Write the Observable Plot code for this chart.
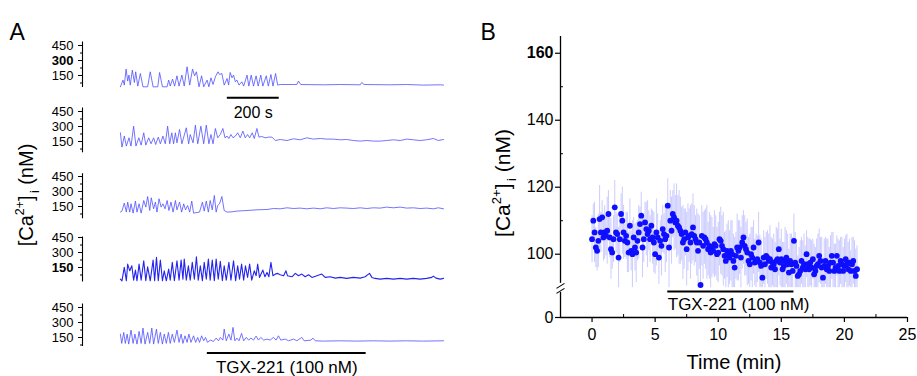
<!DOCTYPE html>
<html><head><meta charset="utf-8">
<script src="https://cdn.jsdelivr.net/npm/d3@7"></script>
<script src="https://cdn.jsdelivr.net/npm/@observablehq/plot@0.6"></script>
<style>
html,body{margin:0;padding:0;background:#fff;}
#fig{position:relative;width:917px;height:376px;overflow:hidden;font-family:"Liberation Sans",Arial,Helvetica,sans-serif;}
</style></head><body><div id="fig"></div>
<script>
// ---------------- Panel A data: five single-cell traces (time s, [Ca2+]i nM) ----------------
const t1 = [0,10,15,22,28,33,38,46,54,59,67,77,87,105,115,126,144,151,162,180,186,192,201,209,218,226,237,246,257,267,278,286,293,303,313,321,334,341,349,357,366,376,382,391,400,411,417,423,430,436,443,449,457,468,475,488,495,504,513,523,531,541,549,562,570,580,588,598,606,616,667,680,686,695,783,847,924,930,939,1039,1103,1168,1232,1245];
const c1 = [37,104,54,214,94,154,54,204,80,187,44,170,37,37,187,37,37,180,37,37,104,44,114,44,147,44,154,44,237,54,214,147,187,37,147,37,104,37,127,60,137,187,160,170,54,120,54,180,127,154,87,104,54,87,44,154,44,154,44,147,44,154,44,147,44,160,44,170,54,60,60,60,94,60,57,60,57,80,60,57,60,54,57,54];

const t2 = [0,6,15,23,33,41,51,60,71,80,90,98,109,118,128,136,146,154,164,173,182,190,198,205,212,218,228,237,254,263,269,280,289,298,310,321,331,341,349,357,366,375,385,395,403,411,418,426,434,443,452,462,472,481,490,498,508,516,526,534,545,558,571,584,597,616,642,667,693,718,744,770,795,821,847,872,898,924,949,975,1001,1026,1052,1078,1103,1129,1155,1180,1206,1225,1245];
const c2 = [237,94,204,104,187,104,303,104,187,114,237,114,187,127,187,120,194,127,204,127,303,127,237,127,237,137,270,127,287,127,220,137,313,127,303,127,313,127,220,127,280,187,220,280,187,204,180,220,187,204,237,187,254,187,220,187,237,180,280,194,200,187,194,194,160,170,160,177,167,187,174,180,174,174,167,170,160,154,160,154,154,160,167,160,174,167,160,167,180,160,170];

const t3 = [0,6,15,23,28,36,41,49,58,64,72,80,90,98,105,113,119,128,135,141,149,157,164,172,180,187,195,203,212,218,228,236,244,251,259,267,275,282,305,316,323,331,339,346,354,362,369,375,382,391,400,411,430,449,488,526,565,590,616,642,667,693,718,744,770,795,821,847,872,898,924,949,975,1001,1026,1052,1078,1103,1129,1155,1180,1206,1225,1245];
const c3 = [94,104,184,94,194,94,177,84,204,94,177,84,210,144,250,110,237,127,194,94,227,144,177,127,210,110,194,94,210,117,194,94,177,117,160,94,204,84,94,194,104,204,94,210,117,260,94,160,177,250,110,94,97,104,110,117,120,130,127,137,130,134,127,134,127,137,130,137,134,130,137,130,137,134,144,137,144,134,137,130,134,127,137,127];

const t4 = [0,6,15,23,28,36,44,51,58,64,72,80,90,98,105,115,126,132,139,146,154,162,169,177,186,192,200,208,218,226,234,241,246,254,262,269,277,285,293,300,308,316,323,331,339,346,354,362,369,377,385,393,400,408,418,426,436,444,452,459,467,475,482,490,498,506,516,523,529,536,549,557,565,572,580,588,597,606,616,629,638,644,661,674,686,699,712,725,738,757,776,789,808,828,847,872,898,924,943,960,969,981,1001,1026,1052,1078,1103,1129,1155,1180,1200,1206,1216,1232,1245];
const c4 = [34,17,151,17,184,117,167,24,124,17,184,24,217,17,157,17,224,17,251,17,224,17,117,17,134,24,201,17,217,24,224,34,234,24,167,24,201,34,257,24,167,17,201,34,234,24,224,17,234,34,211,17,167,24,201,24,217,17,167,34,184,24,167,51,184,24,117,67,184,51,124,57,101,57,201,67,84,91,77,67,117,67,57,91,67,84,57,77,51,67,84,51,57,44,51,41,51,44,57,91,51,41,34,41,34,41,34,41,34,41,51,64,44,34,41];

const t5 = [0,5,13,19,26,32,41,49,56,64,72,80,87,95,105,113,121,128,139,146,154,162,169,177,185,192,200,208,218,226,234,241,249,257,264,272,282,290,298,305,313,321,328,336,346,359,369,378,385,395,400,408,418,426,434,441,449,457,467,475,485,494,503,513,523,532,541,552,565,577,590,600,609,618,635,648,667,680,699,708,734,742,751,783,847,911,975,1039,1103,1168,1245];
const c5 = [184,91,201,91,184,84,224,91,184,84,211,91,244,84,201,91,244,84,234,91,201,84,184,91,201,91,184,101,224,101,184,91,167,101,184,101,167,101,151,101,167,117,151,101,124,111,144,117,151,124,234,117,184,124,251,117,144,117,191,117,151,124,144,124,164,124,151,124,134,124,151,124,167,124,134,117,134,117,151,117,124,144,117,114,117,114,117,114,117,114,117];

const ticksA = [150, 300, 450];
const minorTicksA = [75, 225, 375];
const axisSpanA = [[30, 485], [37, 485], [27, 478], [5, 455], [60, 485]];
const boldTickA = ["300", null, null, "150", null];
const timeDomainA = [-146, 1245];
const scaleBarA = [412, 612];
const scaleBarLabel = "200 s";
const drugA = [335, 947];
const drugLabel = "TGX-221 (100 nM)";

// ---------------- Panel B data: mean ± error, one point every 0.1 min ----------------
const bStep = 0.1;
const bMean = [
104.5,110,106.5,102,101,104,110.5,106.5,111,105,
106.5,105.5,107,112,105,101.5,100.5,104.5,114,106.5,
106,99,104.5,112,110,106.5,104,105.5,103.5,100.5,
108.5,101,100,105,102,100.5,104,106.5,109,111.5,
102,104.5,109.5,107.5,106,107,104.5,108.5,105,103.5,
100,106.5,105,99,104,102.5,107.5,106,104.5,105.5,
114.5,102,110,107,112,111,109.5,110,108.5,108,
107,106,103.5,104.5,106.5,101.5,105,105.5,103.5,106,
108,105.5,104.5,103.5,101,103.5,90.8,105.5,102.5,105,
104.5,103.5,101.5,102.5,100.5,102,101,103,102.5,100,
100.5,104.5,104,102.5,101.5,99.5,98,101,100,99,
101,100,98,96,99.5,102,101,102,99,103.5,
105,102.5,101.5,100.5,98,97,100,99,102,97.5,
98,98.5,103.5,97.5,96.5,93,99,97,99.5,99,
98,98.5,96,97.5,97,95.5,98,98.5,101.5,97.5,
98.5,95.5,96.5,98,99,97,94.5,98,97,95,
104,97.5,96.5,93.5,94,95,98,96,97,95.5,
100,97,95.5,97.5,96,98.5,94,95,96.5,97,
99.5,98,96,93,96.5,98,95.5,96.5,95,97.5,
99.5,97.5,95,96,99.5,96.5,95,98,97,95,
96.5,98.5,97,95.5,97.5,95,97,98,95,93.5,
95.5];
const bErr = [
7,5,9,6,6,8,10,6,5,7,
8,6,10,7,6,9,5,7,8,6,
6,9,7,6,10,8,5,7,9,6,
8,6,10,6,7,9,6,8,5,7,
9,7,6,8,10,6,7,5,8,9,
6,10,7,8,6,9,7,6,10,8,
8,12,9,10,7,10,8,11,9,11,
10,8,11,9,7,11,10,8,11,9,
10,9,7,10,11,8,10,9,10,8,
9,11,8,10,11,9,7,10,9,8,
9,8,10,9,11,7,9,8,10,8,
9,10,8,9,7,10,9,8,9,8,
8,9,8,10,7,9,8,9,8,7,
8,7,9,8,8,6,8,8,7,8,
8,10,9,7,9,8,10,9,8,7,
9,8,7,10,8,9,7,8,9,10,
8,9,7,6,8,9,7,8,9,7,
7,8,9,7,8,6,9,7,8,9,
8,7,9,6,8,7,9,8,7,8,
7,9,8,7,6,8,9,7,8,7,
8,7,9,8,7,6,8,7,9,8,
7];
const xTicksB = [0, 5, 10, 15, 20, 25];
const xMinorB = [2.5, 7.5, 12.5, 17.5, 22.5];
const xDomainB = [-2.5, 25];
const yTicksB = [100, 120, 140, 160];
const yMinorB = [110, 130, 150];
const yTopB = 165;
const yZeroB = 81.1;      // display position of the "0" tick below the axis break
const yBreakB = [88.6, 91.3]; // axis gap
const yClipB = 90;        // lower limit of the upper axis segment
const drugB = [6, 16];
const drugYB = 88.9;

// ---------------- drawing ----------------
const FONT = '"Liberation Sans", Arial, Helvetica, sans-serif';
const fig = document.getElementById("fig");
function place(el, left, top) {
  el.style.position = "absolute";
  el.style.left = left + "px";
  el.style.top = top + "px";
  el.style.maxWidth = "none";
  fig.appendChild(el);
  return el;
}

// Panel A rows
const zeroLineA = [90, 156, 221, 281.7, 351.7];
const tracesA = [[t1, c1], [t2, c2], [t3, c3], [t4, c4], [t5, c5]];
tracesA.forEach(([t, c], i) => {
  const data = t.map((x, k) => ({t: x, c: c[k]}));
  const extra = (i === 0 || i === 4) ? 30 : 4;
  const marks = [
    Plot.ruleX([timeDomainA[0]], {y1: axisSpanA[i][0], y2: axisSpanA[i][1], strokeWidth: 1.1}),
    Plot.axisY(ticksA, {tickSize: 4, tickPadding: 5, fontSize: 13, label: null}),
    Plot.axisY(minorTicksA, {tickSize: 2, tickFormat: () => "", label: null}),
    Plot.line(data, {x: "t", y: "c", stroke: i === 3 ? "#2424ee" : "#5050ff", strokeWidth: i === 3 ? 1.1 : 0.8})
  ];
  if (i === 0) {
    marks.push(Plot.ruleY([0], {x1: scaleBarA[0], x2: scaleBarA[1], dy: 7.3, strokeWidth: 2}));
    marks.push(Plot.text([scaleBarLabel], {x: () => (scaleBarA[0] + scaleBarA[1]) / 2, y: () => 0, dy: 22, text: d => d, fontSize: 16}));
  }
  if (i === 4) {
    marks.push(Plot.ruleY([0], {x1: drugA[0], x2: drugA[1], dy: 0.6, strokeWidth: 2}));
    marks.push(Plot.text([drugLabel], {x: () => (drugA[0] + drugA[1]) / 2, y: () => 0, dy: 15.5, text: d => d, fontSize: 17}));
  }
  const p = Plot.plot({
    width: 460, height: 56 + extra,
    marginLeft: 82, marginRight: 17, marginTop: 0, marginBottom: extra,
    x: {domain: timeDomainA, axis: null},
    y: {domain: [0, 560], label: null},
    style: {fontFamily: FONT, fontSize: "13px", overflow: "visible", background: "transparent", color: "#000"},
    marks
  });
  if (boldTickA[i]) {
    d3.select(p).selectAll("text").filter(function() { return this.textContent === boldTickA[i]; }).attr("font-weight", "bold");
  }
  place(p, 0, zeroLineA[i] - 56);
});

// Panel B
const bData = bMean.map((v, i) => ({t: +(i * bStep).toFixed(2), v, e: bErr[i]}));
const pxX = (xDomainB[1] - xDomainB[0]) / 347;
const pxY = (yTopB - yZeroB) / 281;
const breakMarks = [
  {x1: xDomainB[0] - 4 * pxX, y1: 89.8, x2: xDomainB[0] + 4 * pxX, y2: 89.8 + 5 * pxY},
  {x1: xDomainB[0] - 4 * pxX, y1: 89.8 - 5 * pxY, x2: xDomainB[0] + 4 * pxX, y2: 89.8}
];
const pB = Plot.plot({
  width: 447, height: 376,
  marginLeft: 90, marginRight: 10, marginTop: 36, marginBottom: 59,
  x: {domain: xDomainB, label: null},
  y: {domain: [yZeroB, yTopB], label: null},
  style: {fontFamily: FONT, fontSize: "16px", overflow: "visible", background: "transparent", color: "#000"},
  marks: [
    Plot.ruleX(bData, {x: "t", y1: d => Math.max(d.v - d.e, yClipB), y2: d => d.v + d.e, stroke: "#7a7aff", strokeOpacity: 0.38, strokeWidth: 1}),
    Plot.dot(bData, {x: "t", y: "v", r: 2.9, fill: "#0f0fff", stroke: "none"}),
    Plot.ruleY([yZeroB], {strokeWidth: 1.3}),
    Plot.ruleX([xDomainB[0]], {y1: yBreakB[1], y2: yTopB, strokeWidth: 1.3}),
    Plot.ruleX([xDomainB[0]], {y1: yZeroB, y2: yBreakB[0], strokeWidth: 1.3}),
    Plot.link(breakMarks, {x1: "x1", y1: "y1", x2: "x2", y2: "y2", strokeWidth: 1.1}),
    Plot.axisX(xTicksB, {tickSize: 5, tickPadding: 6, fontSize: 16, label: null, strokeWidth: 1.2}),
    Plot.ruleX(xMinorB, {y1: yZeroB, y2: yZeroB + 3 * pxY, strokeWidth: 1}),
    Plot.axisY([yZeroB, ...yTicksB], {tickSize: 5, tickPadding: 2, fontSize: 16, label: null, strokeWidth: 1.2,
      tickFormat: d => d === yZeroB ? "0" : String(d)}),
    Plot.ruleY(yMinorB, {x1: xDomainB[0], x2: xDomainB[0] + 3 * pxX, strokeWidth: 1}),
    Plot.ruleY([drugYB], {x1: drugB[0], x2: drugB[1], strokeWidth: 2}),
    Plot.text([drugLabel], {x: () => drugB[0], y: () => drugYB, dy: 13, text: d => d, textAnchor: "start", fontSize: 17})
  ]
});
d3.select(pB).selectAll("text").filter(function() { return this.textContent === "160"; }).attr("font-weight", "bold");
place(pB, 470, 0);

// Overlay: panel letters and axis titles
const ov = d3.select(fig).append("svg")
  .attr("width", 917).attr("height", 376)
  .style("position", "absolute").style("left", "0px").style("top", "0px")
  .style("pointer-events", "none")
  .attr("font-family", FONT);
ov.append("text").attr("x", 9.5).attr("y", 40).attr("font-size", 23).text("A");
ov.append("text").attr("x", 480.5).attr("y", 40).attr("font-size", 23).text("B");
function caLabel(x, y, size) {
  const t = ov.append("text").attr("transform", `translate(${x},${y}) rotate(-90)`)
    .attr("text-anchor", "middle").attr("font-size", size);
  t.append("tspan").text("[Ca");
  t.append("tspan").attr("dy", -0.45 * size).attr("font-size", 0.62 * size).text("2+");
  t.append("tspan").attr("dy", 0.45 * size).text("]");
  t.append("tspan").attr("dx", 0.12 * size).attr("dy", 0.3 * size).attr("font-size", 0.62 * size).text("i");
  t.append("tspan").attr("dy", -0.3 * size).text(" (nM)");
}
caLabel(33, 195, 20);
caLabel(510, 183, 21);
ov.append("text").attr("x", 734).attr("y", 368.5).attr("text-anchor", "middle").attr("font-size", 20).text("Time (min)");
</script></body></html>
